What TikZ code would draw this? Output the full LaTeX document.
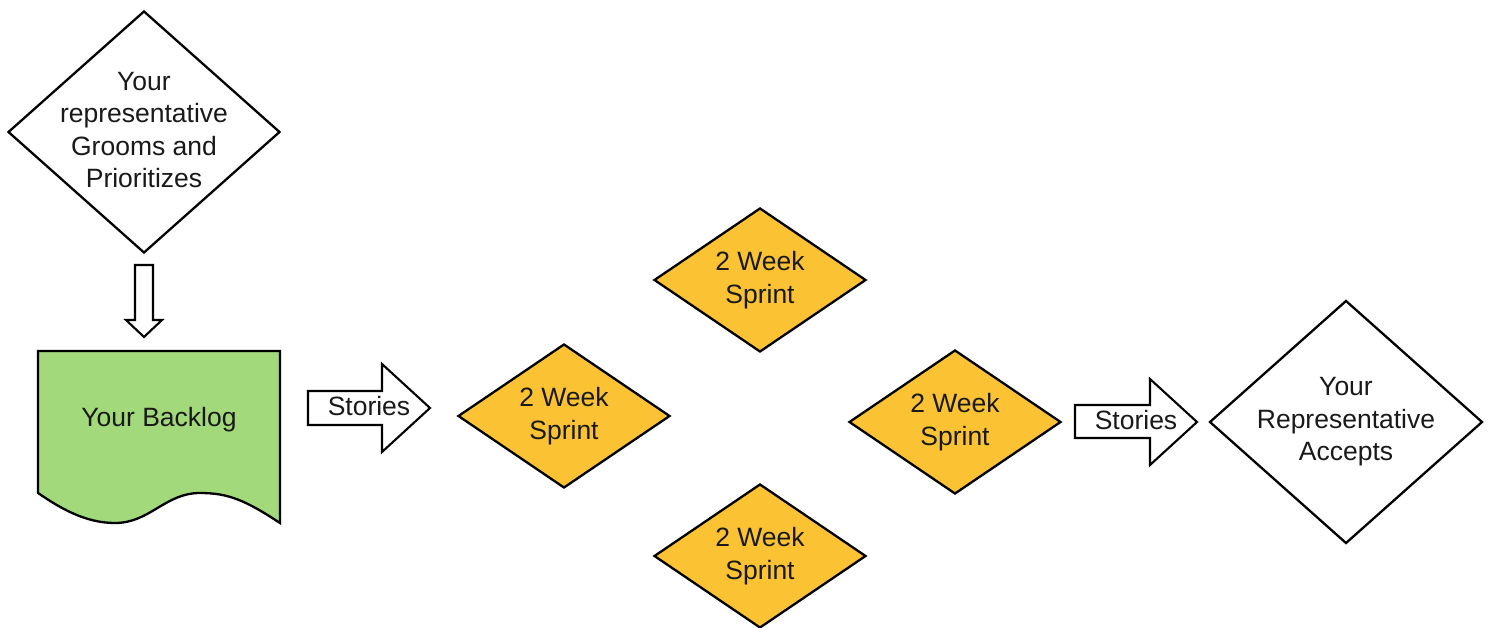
\documentclass[tikz,border=0pt]{standalone}
\usepackage{fontspec}
\setmainfont{Liberation Sans}
\usetikzlibrary{shapes.geometric}
\definecolor{sprintfill}{RGB}{251,195,52}
\definecolor{backfill}{RGB}{162,217,122}
\begin{document}
\begin{tikzpicture}[x=1pt,y=-1pt,
  shapeline/.style={draw=black,line width=2.3pt,line join=miter},
  dia/.style={shapeline,diamond,inner sep=0pt},
  sprintbox/.style={dia,fill=sprintfill,minimum width=212pt,minimum height=144pt},
  txt/.style={font=\fontsize{26.5}{32.5}\selectfont,align=center,inner sep=0pt,text=black!90},
  blockarrow/.style={shapeline,fill=white,line width=2.1pt}
]
\useasboundingbox (0,0) rectangle (1489,628);
% top diamond
\node[dia,minimum width=272pt,minimum height=242pt] (groom) at (144,132) {};
\node[txt] (groomt) at (144,130) {Your\\representative\\Grooms and\\Prioritizes};
% down block arrow
\draw[blockarrow] (135,265) -- (153,265) -- (153,320) -- (162,320) -- (144,337) -- (126,320) -- (135,320) -- cycle;
% backlog document
\draw[shapeline,fill=backfill] (38,351) -- (280,351) -- (280,523)
  .. controls (245,500) and (228,493) .. (200,493)
  .. controls (165,493) and (150,523) .. (115,523)
  .. controls (85,523) and (60,508) .. (38,493) -- cycle;
\node[txt] (backlog) at (159,420) {Your Backlog};
% stories arrow 1
\draw[blockarrow] (308,391) -- (382,391) -- (382,364) -- (430,408) -- (382,452) -- (382,425) -- (308,425) -- cycle;
\node[txt] (st1) at (369,406) {Stories};
% sprints
\node[sprintbox] (sa) at (564,416) {};
\node[txt] at (sa) {2 Week\\Sprint};
\node[sprintbox] (sb) at (760,280) {};
\node[txt] at (sb) {2 Week\\Sprint};
\node[sprintbox] (sc) at (955,422) {};
\node[txt] at (sc) {2 Week\\Sprint};
\node[sprintbox] (sd) at (760,556) {};
\node[txt] at (sd) {2 Week\\Sprint};
% stories arrow 2
\draw[blockarrow] (1075,405) -- (1150,405) -- (1150,379) -- (1197,422) -- (1150,465) -- (1150,438) -- (1075,438) -- cycle;
\node[txt] (st2) at (1136,420) {Stories};
% accepts diamond
\node[dia,minimum width=273pt,minimum height=243pt] (acc) at (1346,422) {};
\node[txt] (acct) at (1346,422) {Your\\Representative\\Accepts};
\end{tikzpicture}
\end{document}
